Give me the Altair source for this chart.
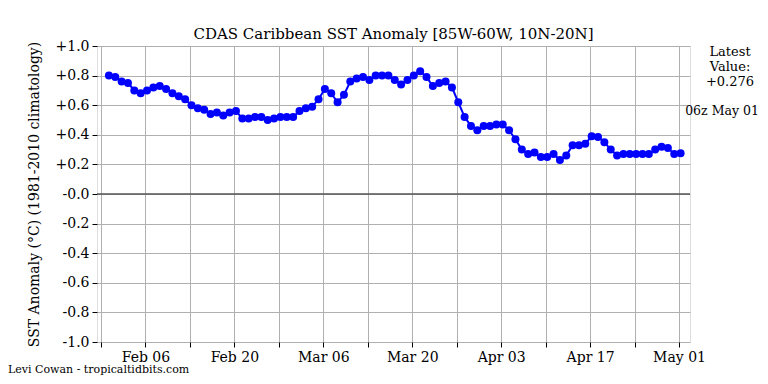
import altair as alt
import pandas as pd

start_date = "2023-01-31"
anomaly = [
    0.80, 0.79, 0.76, 0.75, 0.70, 0.68, 0.70, 0.72, 0.73, 0.71,
    0.68, 0.66, 0.64, 0.60, 0.58, 0.57, 0.54, 0.55, 0.53, 0.55,
    0.56, 0.51, 0.51, 0.52, 0.52, 0.50, 0.51, 0.52, 0.52, 0.52,
    0.56, 0.58, 0.59, 0.64, 0.71, 0.68, 0.62, 0.67, 0.76, 0.78,
    0.79, 0.77, 0.80, 0.80, 0.80, 0.77, 0.74, 0.77, 0.80, 0.83,
    0.79, 0.73, 0.75, 0.76, 0.72, 0.62, 0.52, 0.46, 0.43, 0.46,
    0.46, 0.47, 0.47, 0.43, 0.37, 0.30, 0.27, 0.28, 0.25, 0.25,
    0.27, 0.23, 0.26, 0.33, 0.33, 0.34, 0.39, 0.385, 0.35, 0.30,
    0.26, 0.27, 0.27, 0.27, 0.27, 0.27, 0.30, 0.32, 0.31, 0.27,
    0.276,
]
x_ticks = ["2023-01-30", "2023-02-06", "2023-02-13", "2023-02-20", "2023-02-27",
           "2023-03-06", "2023-03-13", "2023-03-20", "2023-03-27", "2023-04-03",
           "2023-04-10", "2023-04-17", "2023-04-24", "2023-05-01"]
y_ticks = [-1.0, -0.8, -0.6, -0.4, -0.2, 0.0, 0.2, 0.4, 0.6, 0.8, 1.0]
title = "CDAS Caribbean SST Anomaly [85W-60W, 10N-20N]"
y_title = "SST Anomaly (°C) (1981-2010 climatology)"
latest_text = "Latest\nValue:\n+0.276"
latest_time = "06z May 01"
credit = "Levi Cowan - tropicaltidbits.com"

dates = pd.date_range(start_date + " 06:00", periods=len(anomaly), freq="D")
df = pd.DataFrame({"date": dates.strftime("%Y-%m-%dT%H:%M:%S"), "anom": anomaly})

FONT = "DejaVu Serif"
tick_vals = [alt.DateTime(year=int(d[:4]), month=int(d[5:7]), date=int(d[8:10])) for d in x_ticks]

x_axis = alt.Axis(
    values=tick_vals,
    labelExpr="(round((datum.value - datetime(2023,0,30))/86400000) % 14 == 7) ? timeFormat(datum.value, '%b %d') : ''",
    title=None, grid=True, gridColor="#b0b0b0", gridWidth=1,
    tickColor="black", tickSize=5, domain=False,
    labelFont=FONT, labelFontSize=14, labelColor="black", labelPadding=3,
    labelFlush=False, labelOverlap=False,
)
y_axis = alt.Axis(
    values=y_ticks,
    labelExpr="datum.value > 0.001 ? '+' + format(datum.value, '.1f') : '-' + format(abs(datum.value), '.1f')",
    title=y_title, titleFont=FONT, titleFontSize=14, titleFontWeight="normal",
    titleColor="black", titlePadding=14,
    grid=True, gridColor="#b0b0b0", gridWidth=1,
    tickColor="black", tickSize=5, domain=False,
    labelFont=FONT, labelFontSize=14, labelColor="black", labelPadding=3,
    labelOverlap=False, labelFlush=False,
)
x_scale = alt.Scale(domain=["2023-01-29T09:00:00", "2023-05-02T17:30:00"], nice=False)
y_scale = alt.Scale(domain=[-1.0, 1.0], nice=False, zero=False)

base = alt.Chart(df)
line = base.mark_line(color="#0000ff", strokeWidth=2).encode(
    x=alt.X("date:T", scale=x_scale, axis=x_axis),
    y=alt.Y("anom:Q", scale=y_scale, axis=y_axis),
)
pts = base.mark_circle(color="#0000ff", size=64, opacity=1).encode(
    x=alt.X("date:T", scale=x_scale, axis=x_axis),
    y=alt.Y("anom:Q", scale=y_scale, axis=y_axis),
)

zero = alt.Chart(pd.DataFrame({"anom": [0.0]})).mark_rule(color="#555555", strokeWidth=1.3).encode(
    y=alt.Y("anom:Q", scale=y_scale, axis=y_axis)
)

ann = pd.DataFrame({"t": [latest_text], "t2": [latest_time], "c": [credit]})
latest = alt.Chart(ann).mark_text(
    font=FONT, fontSize=13, lineBreak="\n", align="center", baseline="top", lineHeight=15, color="black"
).encode(text="t:N", x=alt.value(633), y=alt.value(0))
latest2 = alt.Chart(ann).mark_text(
    font=FONT, fontSize=12.5, align="center", baseline="middle", color="black"
).encode(text="t2:N", x=alt.value(625), y=alt.value(65))
cred = alt.Chart(ann).mark_text(
    font=FONT, fontSize=11, align="left", baseline="middle", color="black"
).encode(text="c:N", x=alt.value(-89), y=alt.value(324))

chart = alt.layer(line, zero, pts, latest, latest2, cred).properties(
    width=593, height=296,
    title=alt.TitleParams(title, font=FONT, fontSize=15, fontWeight="normal", color="black", anchor="middle", offset=-3),
    autosize=alt.AutoSizeParams(type="none"),
    padding={"left": 89, "top": 38, "right": 70, "bottom": 34},
).configure_view(stroke="black", strokeWidth=1.2).configure(background="white")

chart.save("out.html", embed_options={"renderer": "svg", "actions": False})
